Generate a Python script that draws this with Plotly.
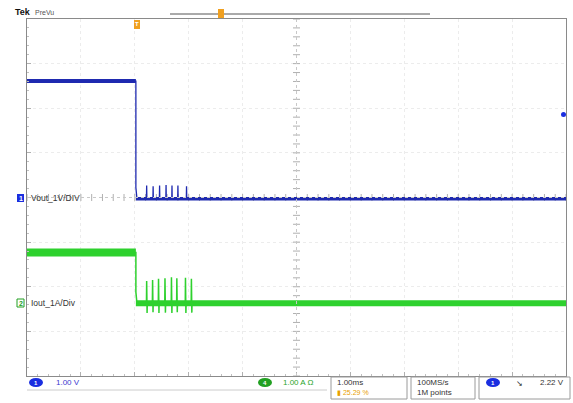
import plotly.graph_objects as go
import numpy as np

# ---------------- data (read from the screen) ----------------
# time in ms from left edge of screen (1.00 ms/div, 10 div)
step_t = 2.02
vout_high = 2.61      # V  (1 V/div)
vout_low = -0.03
vout_spike_t = [2.22, 2.34, 2.46, 2.58, 2.69, 2.80, 2.96]
vout_spike_h = [0.30, 0.28, 0.30, 0.31, 0.30, 0.30, 0.28]

iout_high = 1.14      # A  (1 A/div)
iout_low = 0.0
iout_spike_t = [2.22, 2.33, 2.44, 2.56, 2.68, 2.78, 2.94, 3.05]
iout_spike_up = [0.50, 0.52, 0.55, 0.56, 0.58, 0.56, 0.57, 0.55]
iout_spike_dn = [-0.22, -0.20, -0.22, -0.21, -0.22, -0.20, -0.22, -0.21]

ch1_offset_div = 0.0
ch2_offset_div = -2.37
t_end = 10.0

# ---------------- build traces ----------------
def build(high, low, st, sp_t, sp_up, sp_dn=None):
    x = [0, st, st, st + 0.02]
    y = [high, high, low + 0.25, low]
    for i, t in enumerate(sp_t):
        x += [t - 0.004, t, t + 0.004]
        y += [low, low + sp_up[i], low]
        if sp_dn is not None:
            x += [t + 0.008, t + 0.012]
            y += [low + sp_dn[i], low]
    x += [t_end]
    y += [low]
    return np.array(x), np.array(y)

vx, vy = build(vout_high, vout_low, step_t, vout_spike_t, vout_spike_h)
ix, iy = build(iout_high, iout_low, step_t, iout_spike_t, iout_spike_up, iout_spike_dn)

BLUE = "#1f2ab0"
GREEN = "#2ed12e"

fig = go.Figure()
# center graticule tick marks
tk = np.arange(0, 10.001, 0.2)
fig.add_trace(go.Scatter(x=tk, y=[0] * len(tk), mode="markers",
                         marker=dict(symbol="line-ns", size=5, line=dict(color="#b0b0b0", width=1)),
                         hoverinfo="skip", showlegend=False))
tv = np.arange(-4, 4.001, 0.2)
fig.add_trace(go.Scatter(x=[5] * len(tv), y=tv, mode="markers",
                         marker=dict(symbol="line-ew", size=5, line=dict(color="#b0b0b0", width=1)),
                         hoverinfo="skip", showlegend=False))

# Iout: thick noisy levels + thin transient path
fig.add_trace(go.Scatter(x=[0, step_t], y=[iout_high + ch2_offset_div] * 2, mode="lines",
                         line=dict(color=GREEN, width=8), showlegend=False))
fig.add_trace(go.Scatter(x=[step_t, t_end], y=[iout_low + ch2_offset_div] * 2, mode="lines",
                         line=dict(color=GREEN, width=6), showlegend=False))
fig.add_trace(go.Scatter(x=ix, y=iy + ch2_offset_div, mode="lines",
                         line=dict(color=GREEN, width=1.5), showlegend=False))
# Vout
fig.add_trace(go.Scatter(x=[0, step_t], y=[vout_high + ch1_offset_div] * 2, mode="lines",
                         line=dict(color=BLUE, width=4), showlegend=False))
fig.add_trace(go.Scatter(x=[step_t, t_end], y=[vout_low + ch1_offset_div] * 2, mode="lines",
                         line=dict(color=BLUE, width=3.5), showlegend=False))
fig.add_trace(go.Scatter(x=vx, y=vy + ch1_offset_div, mode="lines",
                         line=dict(color=BLUE, width=1.3), showlegend=False))

# ---------------- layout ----------------
W, H = 573, 403
L, R, T, B = 27, 566, 19, 376
def px(x): return (x - L) / (R - L)
def py(y): return (B - y) / (B - T)

shapes = [
    dict(type="line", xref="x", yref="y", x0=5, x1=5, y0=-4, y1=4,
         line=dict(color="#c8c8c8", width=1, dash="dot")),
    dict(type="line", xref="x", yref="y", x0=0, x1=10, y0=0, y1=0,
         line=dict(color="#c8c8c8", width=1, dash="dot")),
    # record view bar
    dict(type="line", xref="paper", yref="paper", x0=px(170), x1=px(430), y0=py(14), y1=py(14),
         line=dict(color="#555555", width=1)),
    # bottom status boxes
    dict(type="rect", xref="paper", yref="paper", x0=px(331), x1=px(407), y0=py(377), y1=py(399),
         line=dict(color="#9a9a9a", width=1)),
    dict(type="rect", xref="paper", yref="paper", x0=px(411), x1=px(475), y0=py(377), y1=py(399),
         line=dict(color="#9a9a9a", width=1)),
    dict(type="rect", xref="paper", yref="paper", x0=px(479), x1=px(570), y0=py(377), y1=py(399),
         line=dict(color="#9a9a9a", width=1)),
    dict(type="line", xref="paper", yref="paper", x0=px(27), x1=px(327), y0=py(390), y1=py(390),
         line=dict(color="#cccccc", width=1)),
    # channel ovals
    dict(type="circle", xref="paper", yref="paper", x0=px(29), x1=px(43), y0=py(378), y1=py(387),
         fillcolor="#1a2ee0", line=dict(width=0)),
    dict(type="circle", xref="paper", yref="paper", x0=px(258), x1=px(272), y0=py(378), y1=py(387),
         fillcolor="#22a022", line=dict(width=0)),
    dict(type="circle", xref="paper", yref="paper", x0=px(486), x1=px(500), y0=py(378), y1=py(387),
         fillcolor="#1a2ee0", line=dict(width=0)),
    # channel ground markers
    dict(type="rect", xref="paper", yref="paper", x0=px(17), x1=px(24), y0=py(194), y1=py(202),
         fillcolor="#1a2ee0", line=dict(width=0)),
    dict(type="rect", xref="paper", yref="paper", x0=px(17), x1=px(24), y0=py(299), y1=py(307),
         fillcolor="white", line=dict(color="#22a022", width=1)),
    # trigger markers
    dict(type="rect", xref="paper", yref="paper", x0=px(134), x1=px(140), y0=py(20), y1=py(29),
         fillcolor="#f0a020", line=dict(width=0)),
    dict(type="rect", xref="paper", yref="paper", x0=px(218), x1=px(224), y0=py(9), y1=py(18),
         fillcolor="#f0a020", line=dict(width=0)),
    dict(type="circle", xref="paper", yref="paper", x0=px(561), x1=px(566), y0=py(112), y1=py(117),
         fillcolor="#1a2ee0", line=dict(width=0)),
]

FONT = "Liberation Sans"
def ann(x, y, text, color="#333333", size=8, bold=False, xanchor="left"):
    return dict(xref="paper", yref="paper", x=px(x), y=py(y), text=("<b>%s</b>" % text) if bold else text,
                showarrow=False, xanchor=xanchor, yanchor="middle",
                font=dict(family=FONT, size=size, color=color))

annotations = [
    ann(13, 12, "Tek", "#111111", 9, True),
    ann(33, 12, "PreVu", "#555555", 7),
    ann(29, 198, "Vout_1V/DIV", "#333333", 8.5),
    ann(29, 303, "Iout_1A/Div", "#333333", 8.5),
    ann(20.5, 198, "1", "white", 7, True, "center"),
    ann(20.5, 303, "2", "#22a022", 7, True, "center"),
    ann(36, 382.5, "1", "white", 6, True, "center"),
    ann(265, 382.5, "4", "white", 6, True, "center"),
    ann(493, 382.5, "1", "white", 6, True, "center"),
    ann(54, 382.5, "1.00 V", "#3a3ad0", 8),
    ann(281, 382.5, "1.00 A \u03a9", "#2aa52a", 8),
    ann(335, 382.5, "1.00ms", "#333333", 8),
    ann(335, 392.5, "\u25ae 25.29 %", "#e8a000", 7),
    ann(415, 382.5, "100MS/s", "#333333", 8),
    ann(415, 392.5, "1M points", "#333333", 8),
    ann(514, 383, "\u2198", "#222222", 8),
    ann(566, 382.5, "2.22 V", "#333333", 8, False, "right"),
    ann(137, 24.5, "T", "white", 6, True, "center"),
]

fig.update_layout(
    width=W, height=H, autosize=False,
    margin=dict(l=L, r=W - R, t=T, b=H - B, pad=0),
    paper_bgcolor="white", plot_bgcolor="white",
    xaxis=dict(range=[0, 10], dtick=1, showgrid=True, gridcolor="#ececec", griddash="dot",
               zeroline=False, showticklabels=False, showline=True, linecolor="#8a8a8a",
               linewidth=1, mirror=True, ticks="inside", ticklen=4, tickcolor="#b0b0b0",
               minor=dict(dtick=0.2, ticks="inside", ticklen=2, tickcolor="#c0c0c0"),
               fixedrange=True),
    yaxis=dict(range=[-4, 4], dtick=1, showgrid=True, gridcolor="#ececec", griddash="dot",
               zeroline=False, showticklabels=False, showline=True, linecolor="#8a8a8a",
               linewidth=1, mirror=True, ticks="inside", ticklen=4, tickcolor="#b0b0b0",
               minor=dict(dtick=0.2, ticks="inside", ticklen=2, tickcolor="#c0c0c0"),
               fixedrange=True),
    shapes=shapes, annotations=annotations, showlegend=False, hovermode=False,
)

fig.write_html("out.html", config={"displayModeBar": False, "staticPlot": True},
               post_script="document.body.style.margin='0';document.body.style.overflow='hidden';")
